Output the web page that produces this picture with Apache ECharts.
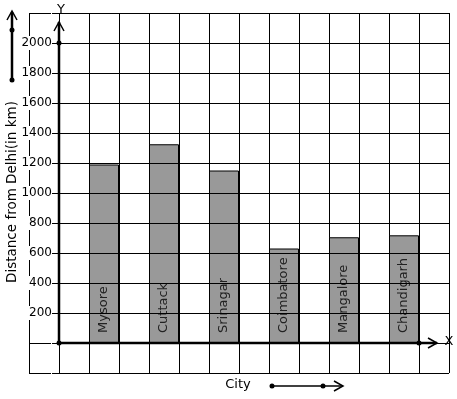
<!DOCTYPE html>
<html>
<head>
<meta charset="utf-8">
<script src="https://cdn.jsdelivr.net/npm/echarts@6/dist/echarts.min.js"></script>
<style>
html, body {margin: 0; padding: 0; background: #fff;}
#chart {width: 457px; height: 399px;}
</style>
</head>
<body>
<div id="chart"></div>
<script>
// data
var cities = ['Mysore', 'Cuttack', 'Srinagar', 'Coimbatore', 'Mangalore', 'Chandigarh'];
var distances = [1190, 1325, 1150, 630, 705, 718];
var cityPos = [1.5, 3.5, 5.5, 7.5, 9.5, 11.5]; // centre of every second grid cell
var yLabels = [200, 400, 600, 800, 1000, 1200, 1400, 1600, 1800, 2000];

var font = 'DejaVu Sans';
var chart = echarts.init(document.getElementById('chart'));

var barData = [];
for (var i = 0; i < cities.length; i++) {
    barData.push({name: cities[i], value: [cityPos[i], distances[i]]});
}

var option = {
    animation: false,
    backgroundColor: '#fff',
    grid: {left: 29, right: 8, top: 13, bottom: 26, show: false, containLabel: false, outerBoundsMode: 'none'},
    xAxis: {
        type: 'value',
        min: -1,
        max: 13,
        interval: 1,
        axisLine: {show: false},
        axisTick: {show: false},
        axisLabel: {show: false},
        splitLine: {show: true, lineStyle: {color: '#000', width: 1}}
    },
    yAxis: {
        type: 'value',
        min: -200,
        max: 2200,
        interval: 200,
        z: 5,
        offset: -30, // axis sits one cell in, on x = 0
        axisLine: {show: false},
        axisTick: {show: true, length: 6, lineStyle: {color: '#000'}},
        axisLabel: {
            margin: 7,
            color: '#000',
            fontFamily: font,
            fontSize: 12,
            backgroundColor: '#fff',
            padding: [1, 0, 1, 1],
            formatter: function (v) {
                return yLabels.indexOf(v) >= 0 ? String(v) : '';
            }
        },
        splitLine: {show: true, lineStyle: {color: '#000', width: 1}}
    },
    series: [{
        type: 'bar',
        barWidth: 30,
        data: barData,
        itemStyle: {color: '#999999', borderColor: '#000', borderWidth: 1},
        label: {
            show: true,
            position: 'insideBottom',
            rotate: 90,
            align: 'left',
            verticalAlign: 'middle',
            distance: 10,
            formatter: '{b}',
            color: '#222',
            fontFamily: font,
            fontSize: 13
        }
    }]
};
chart.setOption(option);

// axes with arrows, placed through the chart's own scales
var o = chart.convertToPixel({gridIndex: 0}, [0, 0]);
var yTip = chart.convertToPixel({gridIndex: 0}, [0, 2140]);
var yDot = chart.convertToPixel({gridIndex: 0}, [0, 2000]);
var xTip = chart.convertToPixel({gridIndex: 0}, [12.6, 0]);
var xDot = chart.convertToPixel({gridIndex: 0}, [12, 0]);

var thick = {stroke: '#000', lineWidth: 2.5, fill: null};
var thin = {stroke: '#000', lineWidth: 1.5, fill: null};

function dot(x, y) {
    return {type: 'circle', shape: {cx: x, cy: y, r: 2.5}, style: {fill: '#000'}, z: 20};
}

function text(x, y, s, rot, size) {
    return {
        type: 'text', x: x, y: y, rotation: rot || 0, z: 20,
        style: {text: s, x: 0, y: 0, fill: '#000', font: (size || 13) + 'px "DejaVu Sans"', align: 'center', verticalAlign: 'middle'}
    };
}

chart.setOption({
    graphic: [
        // y axis
        {type: 'polyline', shape: {points: [[o[0], o[1]], [yTip[0], yTip[1]]]}, style: thick, z: 20},
        {type: 'polyline', shape: {points: [[yTip[0] - 5, yTip[1] + 9], [yTip[0], yTip[1]], [yTip[0] + 5, yTip[1] + 9]]}, style: thin, z: 20},
        dot(o[0], o[1]),
        dot(yDot[0], yDot[1]),
        text(yTip[0] + 2, 10, 'Y'),
        // x axis
        {type: 'polyline', shape: {points: [[o[0], o[1]], [xTip[0], xTip[1]]]}, style: thick, z: 20},
        {type: 'polyline', shape: {points: [[xTip[0] - 9, xTip[1] - 5], [xTip[0], xTip[1]], [xTip[0] - 9, xTip[1] + 5]]}, style: thin, z: 20},
        dot(xDot[0], xDot[1]),
        text(xTip[0] + 12, xTip[1] - 1, 'X'),
        // axis titles
        text(12, 192, 'Distance from Delhi(in km)', Math.PI / 2, 13.5),
        text(238, 385, 'City'),
        // decorative arrows
        {type: 'polyline', shape: {points: [[12, 80], [12, 12]]}, style: thick, z: 20},
        {type: 'polyline', shape: {points: [[7, 20], [12, 11], [17, 20]]}, style: thin, z: 20},
        dot(12, 30),
        dot(12, 80),
        {type: 'polyline', shape: {points: [[272, 386], [342, 386]]}, style: {stroke: '#000', lineWidth: 1.5, fill: null}, z: 20},
        {type: 'polyline', shape: {points: [[334, 381], [343, 386], [334, 391]]}, style: thin, z: 20},
        dot(272, 386),
        dot(323, 386)
    ]
});
</script>
</body>
</html>
